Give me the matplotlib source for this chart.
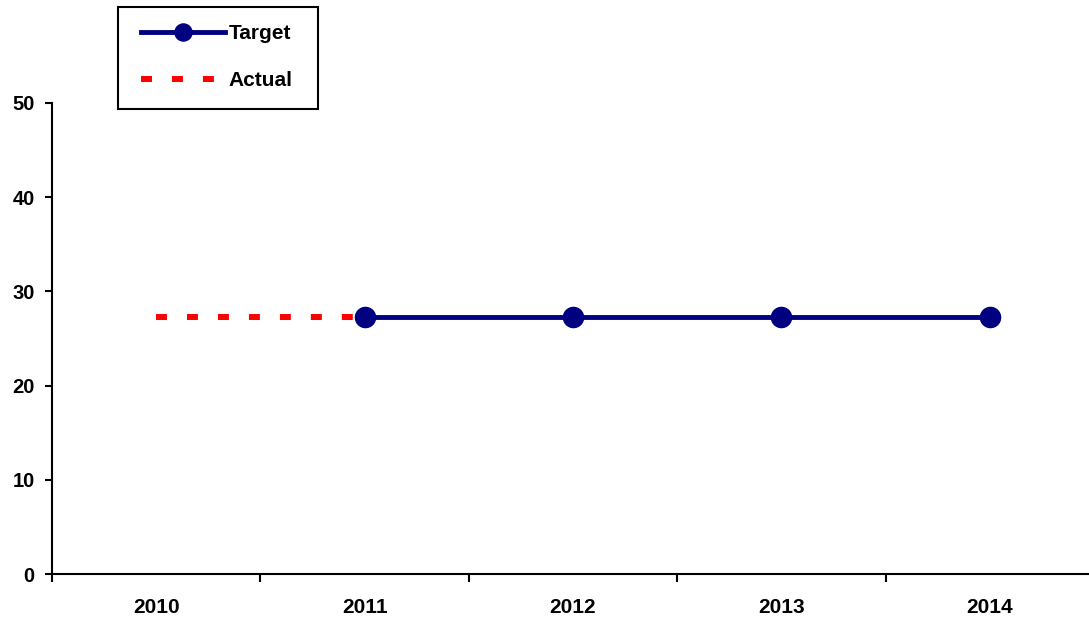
import numpy as np
import matplotlib.pyplot as plt
from matplotlib.patches import Rectangle

plt.rcParams['font.family'] = ['Liberation Sans', 'DejaVu Sans']
plt.rcParams['font.weight'] = 'bold'
plt.rcParams['lines.scale_dashes'] = False

years = ['2010', '2011', '2012', '2013', '2014']
target = [None, 27.3, 27.3, 27.3, 27.3]
actual = [27.3, 27.3, None, None, None]

x = np.arange(len(years))
target_vals = np.array([np.nan if v is None else v for v in target])
actual_vals = np.array([np.nan if v is None else v for v in actual])

W, H = 1089, 621
fig = plt.figure(figsize=(W / 100, H / 100), dpi=100)
ax = fig.add_axes([52 / W, 47 / H, 1042 / W, 471 / H])

ax.plot(x, actual_vals, color='#FF0000', lw=4.3, dashes=(7.9, 14.4),
        dash_capstyle='butt', label='Actual', zorder=2)
ax.plot(x, target_vals, color='#000080', lw=3.5, marker='o', ms=14.5,
        label='Target', zorder=3)

ax.set_xlim(-0.5, len(years) - 0.5)
ax.set_ylim(0, 50)
ax.set_yticks(np.arange(0, 51, 10))

# category boundaries carry the ticks, labels sit in the middle
ax.set_xticks(np.arange(-0.5, len(years), 1.0))
ax.set_xticklabels([])
ax.set_xticks(x, minor=True)
ax.set_xticklabels(years, minor=True)
ax.tick_params(axis='x', which='major', direction='out', length=6, width=1.5)
ax.tick_params(axis='x', which='minor', length=0, pad=17, labelsize=15)
ax.tick_params(axis='y', direction='out', length=5, width=1.5, pad=7.5, labelsize=14.5)

for side in ['top', 'right']:
    ax.spines[side].set_visible(False)
for side in ['left', 'bottom']:
    ax.spines[side].set_linewidth(1.5)

# legend without its own frame, boxed by a plain rectangle
handles, labels = ax.get_legend_handles_labels()
leg = fig.legend(handles[::-1], labels[::-1], loc='upper left',
                 bbox_to_anchor=(141 / W, 1 - 24 / H),
                 frameon=False, fontsize=15, handlelength=4.05,
                 handletextpad=0.15, labelspacing=1.35, borderpad=0,
                 borderaxespad=0, markerscale=0.85)
fig.patches.append(Rectangle((118 / W, 1 - 109 / H), 200 / W, 102 / H,
                             transform=fig.transFigure, fill=False,
                             edgecolor='black', linewidth=1.5))

fig.savefig('out.png', dpi=100)
